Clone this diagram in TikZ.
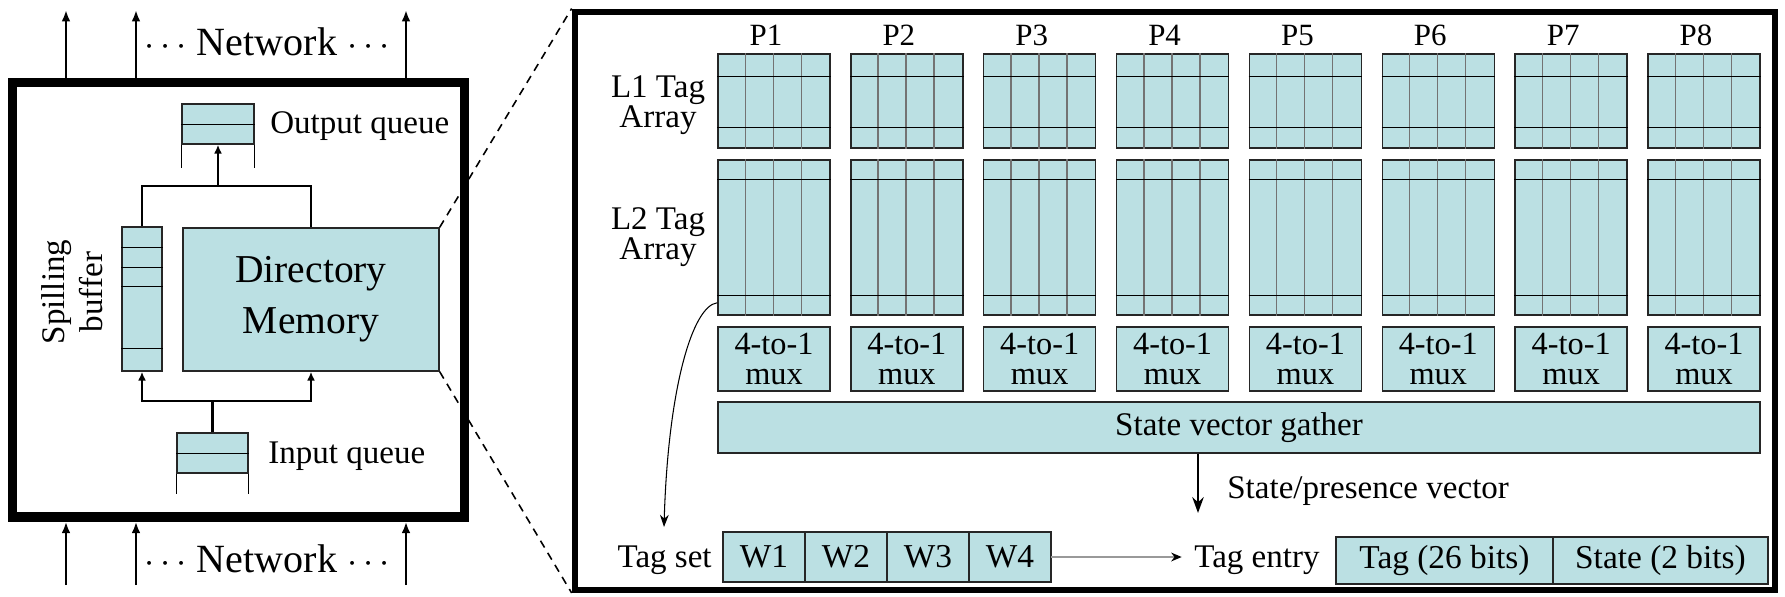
\documentclass[tikz,border=0pt]{standalone}
\usepackage{fontspec}
\setmainfont{Liberation Serif}
\usetikzlibrary{arrows.meta, positioning}

\definecolor{boxfill}{RGB}{187,224,227}

\begin{document}
\begin{tikzpicture}[x=0.02cm, y=-0.02cm,
        lbl/.style={inner sep=0pt, font=\fontsize{18.8}{17}\selectfont},
        biglbl/.style={inner sep=0pt, font=\fontsize{22.8}{29}\selectfont},
        chipframe/.style={draw, line width=5.4pt, inner sep=0pt, minimum width=9.04cm, minimum height=8.69cm},
        panelframe/.style={draw, line width=3.4pt, inner sep=0pt, minimum width=24.01cm, minimum height=11.57cm},
        cell/.style={draw=black!85, fill=boxfill, line width=0.85pt, inner sep=0pt, font=\fontsize{18.8}{20}\selectfont},
        tagarr/.style={cell, minimum width=2.24cm},
        mux/.style={cell, minimum width=2.24cm, minimum height=1.28cm, align=center, font=\fontsize{18.4}{17.6}\selectfont},
        field/.style={cell, line width=1.4pt, outer sep=0pt, minimum height=1cm, font=\fontsize{19}{20}\selectfont},
        wire/.style={line width=1.2pt},
        arrow/.style={wire, -{Latex[length=5pt,width=4.5pt]}},
        netarrow/.style={line width=1.5pt, -{Latex[length=6.5pt,width=5pt]}},
        bigarrow/.style={line width=1.5pt, -{Stealth[length=9pt,width=6.5pt]}},
        curvearrow/.style={line width=0.6pt, -{Stealth[length=7pt,width=5pt]}},
        grayarrow/.style={black!40, line width=0.9pt, -{Stealth[length=6pt,width=5pt,black]}, shorten >=7pt},
        zoomline/.style={line width=0.9pt, dash pattern=on 4.5pt off 3.5pt},
        gridv/.style={black!55, line width=0.8pt},
        gridh/.style={black, line width=0.85pt}
    ]
    \useasboundingbox (0,0) rectangle (1785,596);

    % directory node
    \node[chipframe] (chip) at (238.5,299.75) {};
    \node[cell, minimum width=1.44cm, minimum height=0.8cm] (outq) at (218,124) {};
    \draw (outq.west) -- (outq.east);
    \draw (outq.south west) -- ++(0,23);
    \draw (outq.south east) -- ++(0,23);
    \node[lbl, anchor=base west] (outqlbl) at (270,133) {Output queue};
    \node[cell, minimum width=0.8cm, minimum height=2.88cm] (spill) at (142,299) {};
    \foreach \d in {21,41,60,122}
        \draw ([yshift=-\d*0.02cm]spill.north west) -- ([yshift=-\d*0.02cm]spill.north east);
    \node[lbl, rotate=90, align=center, font=\fontsize{18.8}{21.6}\selectfont] (spilllbl) at (72,292) {Spilling\\buffer};
    \node[cell, minimum width=5.12cm, minimum height=2.86cm, align=center, font=\fontsize{22.5}{29}\selectfont] (dir) at (311,299.5) {Directory\\Memory};
    \node[cell, minimum width=1.42cm, minimum height=0.8cm] (inq) at (212.5,453) {};
    \draw (inq.west) -- (inq.east);
    \draw (inq.south west) -- ++(0,20);
    \draw (inq.south east) -- ++(0,20);
    \node[lbl, anchor=base west] (inqlbl) at (268,463) {Input queue};

    \coordinate (merge) at (218,186);
    \draw[wire] (spill.north) |- (merge) -| (dir.north);
    \draw[arrow] (merge) -- (outq.south);
    \coordinate (split) at (212.5,401);
    \draw[wire] (inq.north) -- (split);
    \draw[arrow] (split) -| (spill.south);
    \draw[arrow] (split) -| (dir.south);

    \foreach \x [count=\k] in {66,136,406} {
        \coordinate (out\k) at (\x,10);
        \coordinate (in\k) at (\x,585);
        \draw[netarrow] (chip.north -| out\k) -- (out\k);
        \draw[netarrow] (in\k) -- (chip.south -| in\k);
    }
    \node[biglbl, anchor=base] (nettop) at (267,55) {$\cdots$ Network $\cdots$};
    \node[biglbl, anchor=base] (netbot) at (267,572) {$\cdots$ Network $\cdots$};

    % zoomed tag arrays
    \node[panelframe] (panel) at (1174.75,300.75) {};
    \draw[zoomline] (dir.north east) -- (panel.north west);
    \draw[zoomline] (dir.south east) -- (panel.south west);

    \node[lbl, align=center] (l1lbl) at (658,105) {L1 Tag\\Array};
    \node[lbl, align=center] (l2lbl) at (658,237) {L2 Tag\\Array};

    \foreach \i in {1,...,8} {
        \pgfmathsetmacro{\cx}{774+132.86*(\i-1)}
        \node[lbl, anchor=base, font=\fontsize{17.6}{18}\selectfont] (p\i) at (\cx-8,45) {P\i};
        \node[tagarr, minimum height=1.88cm] (l1-\i) at (\cx,101) {};
        \node[tagarr, minimum height=3.1cm] (l2-\i) at (\cx,237.5) {};
        \node[mux] (mux\i) at (\cx,359) {4-to-1\\mux};
        \foreach \k in {1,2,3} {
            \draw[gridv] ([xshift=\k*0.56cm]l1-\i.north west) -- ([xshift=\k*0.56cm]l1-\i.south west);
            \draw[gridv] ([xshift=\k*0.56cm]l2-\i.north west) -- ([xshift=\k*0.56cm]l2-\i.south west);
        }
        \draw[gridh] ([yshift=-0.46cm]l1-\i.north west) -- ([yshift=-0.46cm]l1-\i.north east);
        \draw[gridh] ([yshift=0.42cm]l1-\i.south west) -- ([yshift=0.42cm]l1-\i.south east);
        \draw[gridh] ([yshift=-0.4cm]l2-\i.north west) -- ([yshift=-0.4cm]l2-\i.north east);
        \draw[gridh] ([yshift=0.4cm]l2-\i.south west) -- ([yshift=0.4cm]l2-\i.south east);
    }

    \node[cell, minimum width=20.84cm, minimum height=1.02cm] (gather) at (1239,427.5) {State vector gather};
    \coordinate (svec) at (1198,513);
    \draw[bigarrow] (gather.south -| svec) -- (svec);
    \node[lbl, anchor=base west] (svlbl) at (1227,498) {State/presence vector};

    \node[field, minimum width=1.64cm] (w1) at (764,557) {W1};
    \node[field, minimum width=1.64cm, right=0pt of w1] (w2) {W2};
    \node[field, minimum width=1.64cm, right=0pt of w2] (w3) {W3};
    \node[field, minimum width=1.64cm, right=0pt of w3] (w4) {W4};
    \node[lbl, anchor=base east] (setlbl) at (712,567) {Tag set};
    \coordinate (setin) at (664,527);
    \draw[curvearrow] ([yshift=0.26cm]l2-1.south west) .. controls (692,306) and (668,390) .. (setin);

    \node[lbl, anchor=base west] (entrylbl) at (1194,567) {Tag entry};
    \draw[grayarrow] (w4.east) -- (w4.east -| entrylbl.west);
    \node[field, minimum width=4.34cm, minimum height=0.94cm] (tagf) at (1444.5,560.5) {Tag (26 bits)};
    \node[field, minimum width=4.3cm, minimum height=0.94cm, right=0pt of tagf] (statef) {State (2 bits)};
\end{tikzpicture}
\end{document}
